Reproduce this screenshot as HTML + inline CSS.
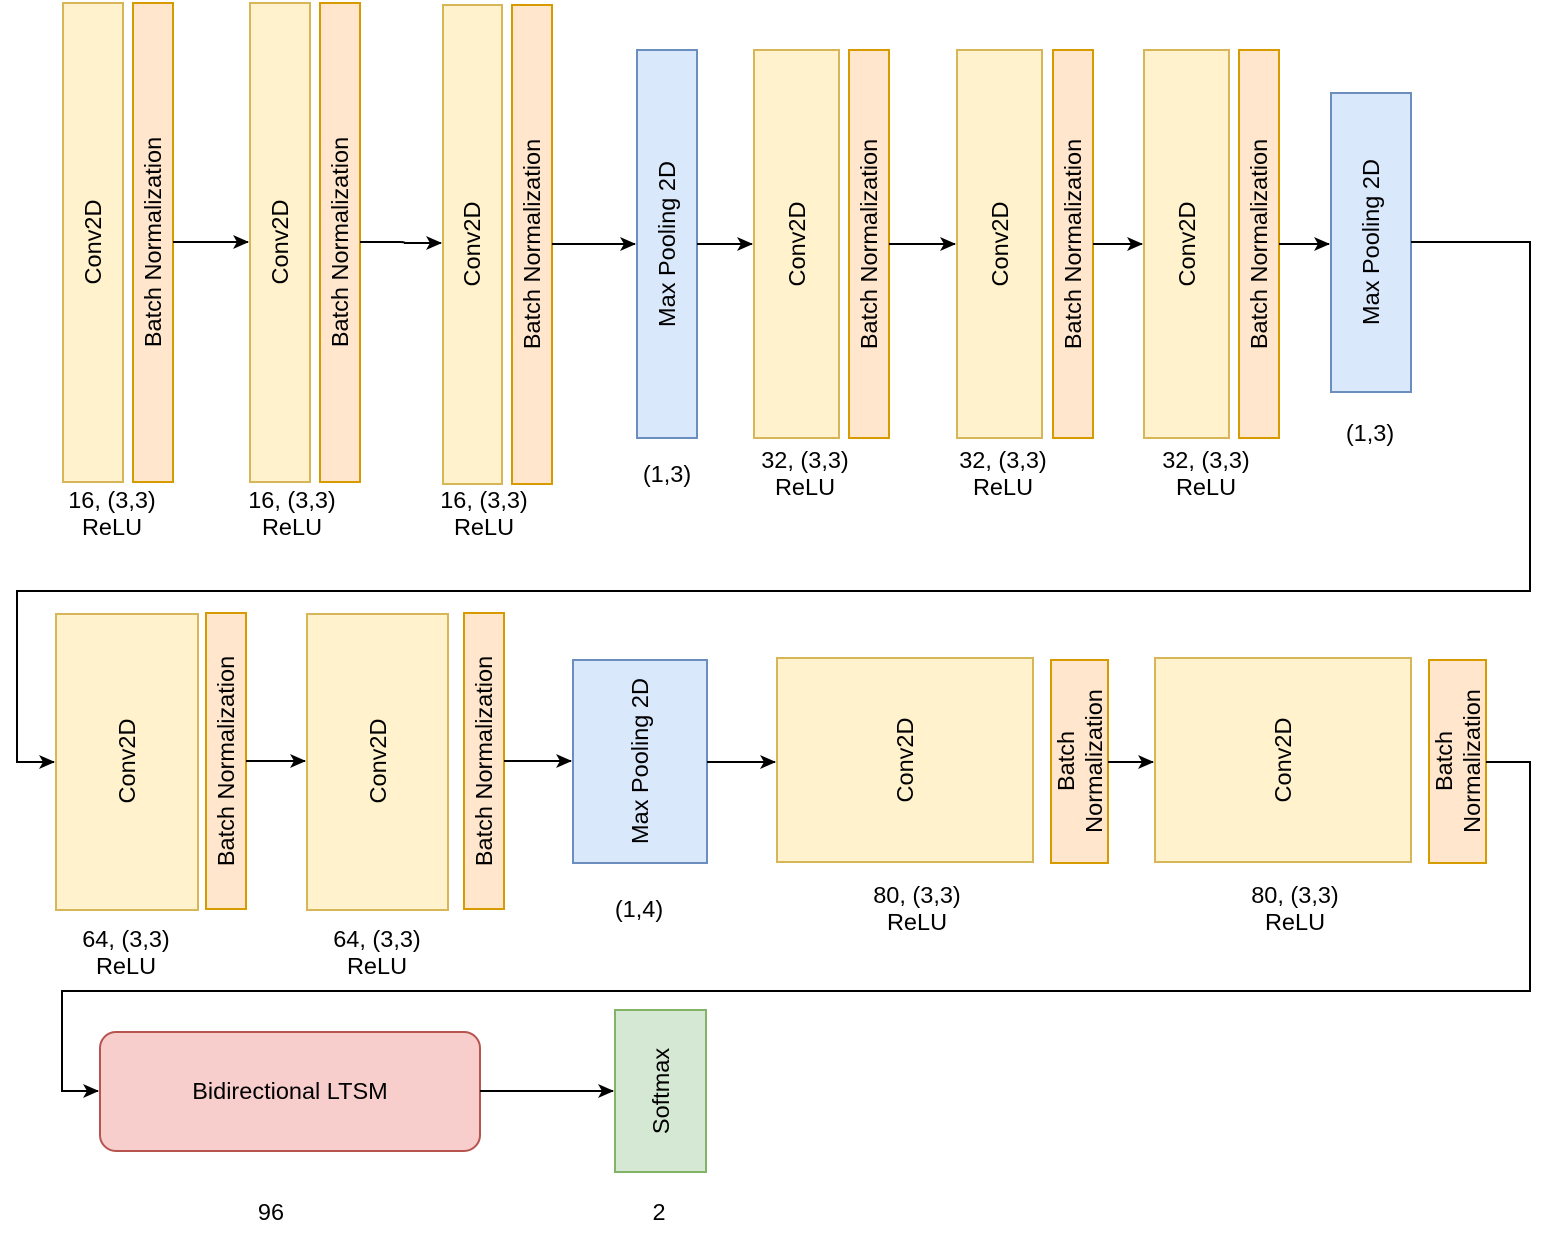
<!DOCTYPE html>
<html><head><meta charset="utf-8"><style>
html,body{margin:0;padding:0;background:#fff;}
svg{display:block;}
text{font-family:"Liberation Sans",Arial,sans-serif;fill:#000;}
.y{fill:#fff2cc;stroke:#d6b656;stroke-width:2;}
.o{fill:#ffe6cc;stroke:#d79b00;stroke-width:2;}
.b{fill:#dae8fc;stroke:#6c8ebf;stroke-width:2;}
.r{fill:#f8cecc;stroke:#b85450;stroke-width:2;}
.g{fill:#d5e8d4;stroke:#82b366;stroke-width:2;}
.l{fill:none;stroke:#000;stroke-width:2;}
.t{font-size:23.5px;text-anchor:middle;dominant-baseline:central;}
.c{font-size:23.5px;text-anchor:middle;}
</style></head><body>
<svg width="1550" height="1234" viewBox="0 0 1550 1234" xmlns="http://www.w3.org/2000/svg">
<defs><marker id="a" markerWidth="16" markerHeight="14" refX="15" refY="7" orient="auto" markerUnits="userSpaceOnUse"><path d="M0,0 L16,7 L0,14 L4,7 z" fill="#000"/></marker></defs>

<!-- Row 1 -->
<rect class="y" x="63" y="3" width="60" height="479"/><rect class="o" x="133" y="3" width="40" height="479"/>
<rect class="y" x="250" y="3" width="60" height="479"/><rect class="o" x="320" y="3" width="40" height="479"/>
<rect class="y" x="443" y="5" width="59" height="479"/><rect class="o" x="512" y="5" width="40" height="479"/>
<rect class="b" x="637" y="50" width="60" height="388"/>
<rect class="y" x="754" y="50" width="85" height="388"/><rect class="o" x="849" y="50" width="40" height="388"/>
<rect class="y" x="957" y="50" width="85" height="388"/><rect class="o" x="1053" y="50" width="40" height="388"/>
<rect class="y" x="1144" y="50" width="85" height="388"/><rect class="o" x="1239" y="50" width="40" height="388"/>
<rect class="b" x="1331" y="93" width="80" height="299"/>

<text transform="translate(93,242) rotate(-90)" class="t">Conv2D</text>
<text transform="translate(153,242) rotate(-90)" class="t">Batch Normalization</text>
<text transform="translate(280,242) rotate(-90)" class="t">Conv2D</text>
<text transform="translate(340,242) rotate(-90)" class="t">Batch Normalization</text>
<text transform="translate(472,244) rotate(-90)" class="t">Conv2D</text>
<text transform="translate(532,244) rotate(-90)" class="t">Batch Normalization</text>
<text transform="translate(667,244) rotate(-90)" class="t">Max Pooling 2D</text>
<text transform="translate(797,244) rotate(-90)" class="t">Conv2D</text>
<text transform="translate(869,244) rotate(-90)" class="t">Batch Normalization</text>
<text transform="translate(1000,244) rotate(-90)" class="t">Conv2D</text>
<text transform="translate(1073,244) rotate(-90)" class="t">Batch Normalization</text>
<text transform="translate(1187,244) rotate(-90)" class="t">Conv2D</text>
<text transform="translate(1259,244) rotate(-90)" class="t">Batch Normalization</text>
<text transform="translate(1371,242) rotate(-90)" class="t">Max Pooling 2D</text>

<text class="c" x="112" y="508">16, (3,3)</text><text class="c" x="112" y="535">ReLU</text>
<text class="c" x="292" y="508">16, (3,3)</text><text class="c" x="292" y="535">ReLU</text>
<text class="c" x="484" y="508">16, (3,3)</text><text class="c" x="484" y="535">ReLU</text>
<text class="c" x="667" y="482">(1,3)</text>
<text class="c" x="805" y="468">32, (3,3)</text><text class="c" x="805" y="495">ReLU</text>
<text class="c" x="1003" y="468">32, (3,3)</text><text class="c" x="1003" y="495">ReLU</text>
<text class="c" x="1206" y="468">32, (3,3)</text><text class="c" x="1206" y="495">ReLU</text>
<text class="c" x="1370" y="441">(1,3)</text>

<path class="l" d="M173,242 H248" marker-end="url(#a)"/>
<path class="l" d="M360,242 H400 Q405,242 405,243 H441" marker-end="url(#a)"/>
<path class="l" d="M552,244 H635" marker-end="url(#a)"/>
<path class="l" d="M697,244 H752" marker-end="url(#a)"/>
<path class="l" d="M889,244 H955" marker-end="url(#a)"/>
<path class="l" d="M1093,244 H1142" marker-end="url(#a)"/>
<path class="l" d="M1279,244 H1329" marker-end="url(#a)"/>
<path class="l" d="M1411,242 H1530 V591 H17 V762 H54" marker-end="url(#a)"/>

<!-- Row 2 -->
<rect class="y" x="56" y="614" width="142" height="296"/><rect class="o" x="206" y="613" width="40" height="296"/>
<rect class="y" x="307" y="614" width="141" height="296"/><rect class="o" x="464" y="613" width="40" height="296"/>
<rect class="b" x="573" y="660" width="134" height="203"/>
<rect class="y" x="777" y="658" width="256" height="204"/><rect class="o" x="1051" y="660" width="57" height="203"/>
<rect class="y" x="1155" y="658" width="256" height="204"/><rect class="o" x="1429" y="660" width="57" height="203"/>

<text transform="translate(127,761) rotate(-90)" class="t">Conv2D</text>
<text transform="translate(226,761) rotate(-90)" class="t">Batch Normalization</text>
<text transform="translate(378,761) rotate(-90)" class="t">Conv2D</text>
<text transform="translate(484,761) rotate(-90)" class="t">Batch Normalization</text>
<text transform="translate(640,761) rotate(-90)" class="t">Max Pooling 2D</text>
<text transform="translate(905,760) rotate(-90)" class="t">Conv2D</text>
<text transform="translate(1066,761) rotate(-90)" class="t">Batch</text>
<text transform="translate(1094,761) rotate(-90)" class="t">Normalization</text>
<text transform="translate(1283,760) rotate(-90)" class="t">Conv2D</text>
<text transform="translate(1444,761) rotate(-90)" class="t">Batch</text>
<text transform="translate(1472,761) rotate(-90)" class="t">Normalization</text>

<text class="c" x="126" y="947">64, (3,3)</text><text class="c" x="126" y="974">ReLU</text>
<text class="c" x="377" y="947">64, (3,3)</text><text class="c" x="377" y="974">ReLU</text>
<text class="c" x="639" y="917">(1,4)</text>
<text class="c" x="917" y="903">80, (3,3)</text><text class="c" x="917" y="930">ReLU</text>
<text class="c" x="1295" y="903">80, (3,3)</text><text class="c" x="1295" y="930">ReLU</text>

<path class="l" d="M246,761 H305" marker-end="url(#a)"/>
<path class="l" d="M504,761 H571" marker-end="url(#a)"/>
<path class="l" d="M707,762 H775" marker-end="url(#a)"/>
<path class="l" d="M1108,762 H1153" marker-end="url(#a)"/>
<path class="l" d="M1486,762 H1530 V991 H62 V1091 H98" marker-end="url(#a)"/>

<!-- Row 3 -->
<rect class="r" x="100" y="1032" width="380" height="119" rx="16" ry="16"/>
<text class="t" x="290" y="1091">Bidirectional LTSM</text>
<rect class="g" x="615" y="1010" width="91" height="162"/>
<text transform="translate(661,1091) rotate(-90)" class="t">Softmax</text>
<path class="l" d="M480,1091 H613" marker-end="url(#a)"/>
<text class="c" x="271" y="1220">96</text>
<text class="c" x="659" y="1220">2</text>
</svg>
</body></html>
